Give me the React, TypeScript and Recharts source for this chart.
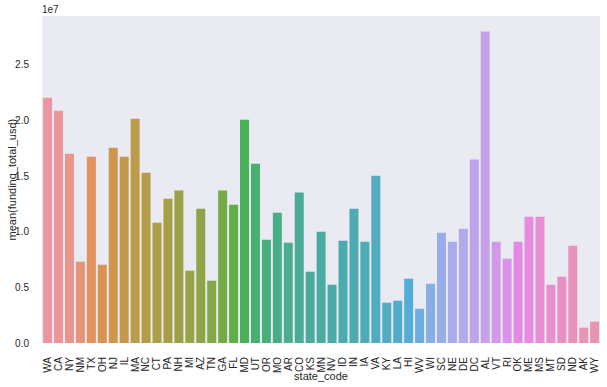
import React from 'react';
import { BarChart, Bar, XAxis, YAxis, Cell } from 'recharts';

const states = ['WA','CA','NY','NM','TX','OH','NJ','IL','MA','NC','CT','PA','NH','MI','AZ','TN','GA','FL','MD','UT','OR','MO','AR','CO','KS','MN','NV','ID','IN','IA','VA','KY','LA','HI','WV','WI','SC','NE','DE','DC','AL','VT','RI','OK','ME','MS','MT','SD','ND','AK','WY'];

const meanFunding = [
  22060000, 20890000, 17020000, 7310000, 16750000, 7040000, 17560000, 16750000, 20170000, 15310000,
  10820000, 12980000, 13700000, 6500000, 12080000, 5600000, 13700000, 12440000, 20080000, 16120000,
  9290000, 11720000, 9020000, 13520000, 6410000, 10010000, 5240000, 9200000, 12080000, 9110000,
  15040000, 3620000, 3800000, 5780000, 3080000, 5330000, 9920000, 9110000, 10280000, 16490000,
  28000000, 9110000, 7580000, 9110000, 11360000, 11360000, 5240000, 5960000, 8750000, 1380000,
  1920000,
];

const yTicks = [0, 5000000, 10000000, 15000000, 20000000, 25000000];

// ---- HUSL (seaborn husl_palette) colour helpers ----
const M = [
  [3.2406, -1.5372, -0.4986],
  [-0.9689, 1.8758, 0.0415],
  [0.0557, -0.204, 1.057],
];
const refU = 0.19784;
const refV = 0.46834;
const kappa = 903.2963;
const epsilon = 0.0088564;

function maxChroma(L: number, H: number) {
  const hrad = (H / 360) * 2 * Math.PI;
  const sinH = Math.sin(hrad);
  const cosH = Math.cos(hrad);
  const sub1 = Math.pow(L + 16, 3) / 1560896;
  const sub2 = sub1 > epsilon ? sub1 : L / kappa;
  let result = Infinity;
  for (const row of M) {
    const [m1, m2, m3] = row;
    const top = (0.99915 * m1 + 1.05122 * m2 + 1.1446 * m3) * sub2;
    const rbottom = 0.8633 * m3 - 0.17266 * m2;
    const lbottom = 0.12949 * m3 - 0.38848 * m1;
    const bottom = (rbottom * sinH + lbottom * cosH) * sub2;
    for (const t of [0, 1]) {
      const C = (L * (top - 1.05122 * t)) / (bottom + 0.17266 * sinH * t);
      if (C > 0 && C < result) result = C;
    }
  }
  return result;
}

function fromLinear(c: number) {
  return c <= 0.0031308 ? 12.92 * c : 1.055 * Math.pow(c, 1 / 2.4) - 0.055;
}

function huslToRgb(h: number, s: number, l: number): [number, number, number] {
  const L = l;
  const C = (maxChroma(L, h) / 100) * s;
  const hrad = (h / 360) * 2 * Math.PI;
  const U = C * Math.cos(hrad);
  const V = C * Math.sin(hrad);
  const Y = L > 8 ? Math.pow((L + 16) / 116, 3) : L / kappa;
  const varU = U / (13 * L) + refU;
  const varV = V / (13 * L) + refV;
  const X = -(9 * Y * varU) / ((varU - 4) * varV - varU * varV);
  const Z = (9 * Y - 15 * varV * Y - varV * X) / (3 * varV);
  const xyz = [X, Y, Z];
  return M.map((r) => {
    const v = fromLinear(r[0] * xyz[0] + r[1] * xyz[1] + r[2] * xyz[2]);
    return Math.min(1, Math.max(0, v));
  }) as [number, number, number];
}

function rgbToHls(r: number, g: number, b: number): [number, number, number] {
  const maxc = Math.max(r, g, b);
  const minc = Math.min(r, g, b);
  const l = (minc + maxc) / 2;
  if (minc === maxc) return [0, l, 0];
  const s = l <= 0.5 ? (maxc - minc) / (maxc + minc) : (maxc - minc) / (2 - maxc - minc);
  const rc = (maxc - r) / (maxc - minc);
  const gc = (maxc - g) / (maxc - minc);
  const bc = (maxc - b) / (maxc - minc);
  let h;
  if (r === maxc) h = bc - gc;
  else if (g === maxc) h = 2 + rc - bc;
  else h = 4 + gc - rc;
  h = ((h / 6) % 1 + 1) % 1;
  return [h, l, s];
}

function v(m1: number, m2: number, hue: number) {
  hue = ((hue % 1) + 1) % 1;
  if (hue < 1 / 6) return m1 + (m2 - m1) * hue * 6;
  if (hue < 0.5) return m2;
  if (hue < 2 / 3) return m1 + (m2 - m1) * (2 / 3 - hue) * 6;
  return m1;
}

function hlsToRgb(h: number, l: number, s: number): [number, number, number] {
  if (s === 0) return [l, l, l];
  const m2 = l <= 0.5 ? l * (1 + s) : l + s - l * s;
  const m1 = 2 * l - m2;
  return [v(m1, m2, h + 1 / 3), v(m1, m2, h), v(m1, m2, h - 1 / 3)];
}

function toHex(rgb: [number, number, number]) {
  return '#' + rgb.map((c) => Math.round(c * 255).toString(16).padStart(2, '0')).join('');
}

function huslPalette(n: number, h = 0.01, s = 0.9, l = 0.7, desat = 0.75) {
  const out: string[] = [];
  for (let i = 0; i < n; i++) {
    const hue = ((i / n + h) % 1) * 359;
    const rgb = huslToRgb(hue, s * 99, l * 99);
    const [hh, ll, ss] = rgbToHls(rgb[0], rgb[1], rgb[2]);
    out.push(toHex(hlsToRgb(hh, ll, ss * desat)));
  }
  return out;
}

const colors = huslPalette(states.length);

const data = states.map((s, i) => ({ state: s, value: meanFunding[i] }));

const FONT = '"Liberation Sans", Arial, sans-serif';
const TEXT = '#262626';

const XTick = (props: any) => {
  const { x, y, payload } = props;
  return (
    <text
      x={x}
      y={y}
      transform={`rotate(-90 ${x} ${y})`}
      textAnchor="end"
      dominantBaseline="central"
      fontSize={10}
      fontFamily={FONT}
      fill={TEXT}
    >
      {payload.value}
    </text>
  );
};

export default function App() {
  return (
    <div style={{ position: 'absolute', left: 0, top: 0, width: 607, height: 387, background: '#ffffff' }}>
      <BarChart
        width={607}
        height={387}
        data={data}
        margin={{ top: 16, right: 7, bottom: 0, left: 0 }}
        barCategoryGap="10%"
      >
        <rect x={42} y={16} width={558} height={327} fill="#EAEAF2" />
        <XAxis
          dataKey="state"
          type="category"
          interval={0}
          height={44}
          axisLine={false}
          tickLine={false}
          tick={<XTick />}
          tickMargin={8}
          label={{
            content: () => (
              <text x={321} y={376} textAnchor="middle" dominantBaseline="central" fontSize={11} fontFamily={FONT} fill={TEXT}>
                state_code
              </text>
            ),
          }}
        />
        <YAxis
          width={42}
          domain={[0, 29400000]}
          ticks={yTicks}
          type="number"
          allowDataOverflow
          axisLine={false}
          tickLine={false}
          tickMargin={7}
          tick={{ fontSize: 10, fontFamily: FONT, fill: TEXT }}
          tickFormatter={(val: number) => (val / 1e7).toFixed(1)}
          label={{
            content: () => (
              <text
                x={12.5}
                y={179.6}
                transform="rotate(-90 12.5 179.6)"
                textAnchor="middle"
                dominantBaseline="central"
                fontSize={11}
                fontFamily={FONT}
                fill={TEXT}
              >
                mean(funding_total_usd)
              </text>
            ),
          }}
        />
        <Bar dataKey="value" isAnimationActive={false}>
          {data.map((d, i) => (
            <Cell key={d.state} fill={colors[i]} />
          ))}
        </Bar>
      </BarChart>
      <div
        style={{
          position: 'absolute',
          left: 42,
          top: 4,
          fontSize: 10,
          fontFamily: FONT,
          color: TEXT,
          lineHeight: '12px',
        }}
      >
        1e7
      </div>
    </div>
  );
}
